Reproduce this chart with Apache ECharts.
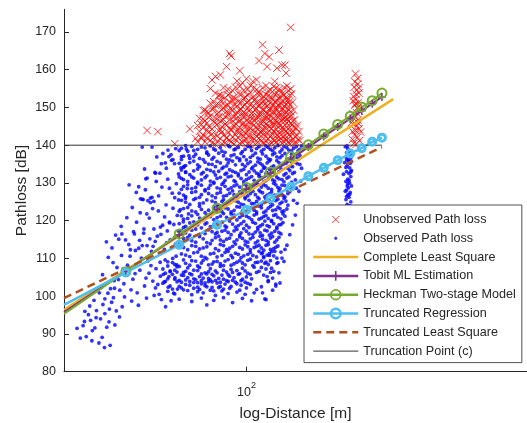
<!DOCTYPE html>
<html><head><meta charset="utf-8">
<script src="https://cdn.jsdelivr.net/npm/echarts@6.0.0/dist/echarts.min.js"></script>
<style>html,body{margin:0;padding:0;background:#fff}#c{width:527px;height:423px}</style>
</head><body><div id="c"></div>
<script>
// ---------- data (distance [m], path loss [dB]) ----------
const unobserved = [
[71,141.8],[73,140.9],[76,141.3],[79,140.2],[82,141.7],[85,140.6],[88,141.2],[91,140.3],[94,141.9],[97,140.7],[100,141.4],[103,140.1],[106,141.6],[109,140.8],[112,141.1],[115,140.4],[118,141.7],[121,140.6],[124,141.3],[127,140.2],[130,141.8],[133,140.9],[136,141.4],[139,140.3],[142,141.6],[146,140.7],[150,141.2],
[70,143.7],[72,142.6],[75,143.3],[78,142.1],[81,143.8],[84,142.7],[87,143.4],[90,142.2],[93,143.6],[96,142.9],[99,143.2],[102,142.5],[105,143.9],[108,142.3],[111,143.5],[114,142.8],[117,143.1],[120,142.4],[123,143.7],[126,142.6],[129,143.3],[132,142.1],[135,143.8],[138,142.7],[141,143.4],[145,142.2],[149,143.6],
[69,145.2],[72,144.6],[74,145.8],[77,144.3],[80,145.5],[83,144.9],[86,145.3],[89,144.1],[92,145.7],[95,144.7],[98,145.1],[101,144.4],[104,145.9],[107,144.8],[110,145.2],[113,144.2],[116,145.6],[119,144.9],[122,145.4],[125,144.1],[128,145.8],[131,144.6],[134,145.3],[137,144.3],[140,145.7],[143,144.8],[147,145.2],
[70,147.1],[73,146.5],[76,147.7],[78,146.2],[81,147.4],[84,146.8],[87,147.9],[90,146.4],[93,147.2],[96,146.7],[99,147.6],[102,146.1],[105,147.3],[108,146.9],[111,147.8],[114,146.3],[117,147.5],[120,146.6],[123,147.1],[126,146.2],[129,147.7],[132,146.8],[135,147.4],[138,146.4],[141,147.9],[144,146.7],
[72,149.2],[75,148.6],[78,149.7],[80,148.3],[83,149.4],[86,148.9],[89,149.6],[92,148.2],[95,149.1],[98,148.7],[101,149.8],[104,148.4],[107,149.3],[110,148.1],[113,149.5],[116,148.8],[119,149.2],[122,148.5],[125,149.9],[128,148.6],[131,149.4],[134,148.2],[137,149.7],[140,148.9],[143,149.3],
[76,151.1],[79,150.5],[82,151.8],[85,150.3],[88,151.4],[91,150.8],[94,151.6],[97,150.2],[100,151.3],[103,150.7],[106,151.9],[109,150.4],[112,151.2],[115,150.9],[118,151.7],[121,150.1],[124,151.5],[127,150.6],[130,151.1],[133,150.3],[136,151.8],[139,150.7],[142,151.4],
[81,153.2],[85,152.6],[88,153.7],[92,152.3],[96,153.4],[99,152.8],[103,153.9],[107,152.2],[111,153.5],[114,152.9],[118,153.1],[122,152.4],[126,153.8],[129,152.7],[133,153.3],[137,152.1],[141,153.6],
[84,155.2],[90,154.4],[95,155.6],[101,154.8],[106,155.3],[110,154.2],[116,155.8],[120,154.6],[125,155.1],[131,154.3],[136,155.7],[140,154.9],
[79,158.2],[77,157.3],[82,158.6],[86,160.8],[88,164.3],[89,163.6],[95,159.7],[113,166.6],[110,162.4],[115,164.3],[117,160.8],[119,163.4],[128,165.2],[126,160.4],[131,161.2],[134,161.2],[135,159.1],[124,156.9],[105,156.9],[108,157.3],[140,171.2],[100,157.6],[97,156.5],[93,157.0],
[47,143.9],[51,143.6],[58,140.4],[65,144.3],[68,141.8],[69,140.9],[73,149.3],[79,153.8],[82,153.3],[76,155.0],
[74,141.9],[77,140.5],[80,141.0],[83,140.3],[86,141.8],[89,140.9],[92,141.4],[95,140.5],[98,141.3],[101,140.4],[104,141.6],[107,140.2],[110,141.9],[113,140.6],[116,141.2],[119,140.1],[122,141.5],[125,140.8],[128,141.4],[131,140.5],[134,141.7],[137,140.8],[140,141.1],[144,140.6],[148,141.5],
[71,142.2],[74,144.0],[77,143.0],[80,142.4],[83,143.5],[86,142.1],[89,143.9],[92,142.8],[95,143.4],[98,142.4],[101,143.7],[104,142.2],[107,143.5],[110,142.9],[113,143.6],[116,142.3],[119,143.8],[122,142.9],[125,143.1],[128,142.2],[131,143.9],[134,142.6],[137,143.3],[140,142.4],[143,143.5],[147,142.6],
[71,145.5],[75,144.9],[79,145.9],[82,144.2],[85,145.6],[88,144.6],[91,145.1],[94,144.3],[97,145.8],[100,145.1],[103,144.5],[106,145.4],[109,144.3],[112,145.8],[115,144.6],[118,145.2],[121,144.4],[124,145.6],[127,144.9],[130,145.3],[133,144.1],[136,145.9],[139,144.7],[142,145.5],[146,144.5],
[72,146.9],[75,147.4],[79,147.2],[82,146.3],[85,147.6],[88,146.7],[91,147.5],[94,146.2],[97,147.9],[100,146.5],[103,147.3],[106,146.6],[109,147.6],[112,146.4],[115,147.2],[118,146.9],[121,147.7],[124,146.3],[127,147.5],[130,146.6],[133,147.2],[136,146.9],[139,147.6],[142,146.4],
[74,148.9],[77,149.5],[81,148.7],[84,149.9],[87,148.4],[90,149.3],[93,148.8],[96,149.6],[99,148.2],[102,149.1],[105,148.8],[108,149.7],[111,148.5],[114,149.2],[117,148.3],[120,149.6],[123,148.9],[126,149.3],[129,148.2],[132,149.7],[135,148.8],[138,149.3],
[78,151.5],[81,150.8],[84,151.2],[87,150.6],[90,151.9],[93,150.4],[96,151.3],[99,150.8],[102,151.7],[105,150.2],[108,151.3],[111,150.7],[114,151.6],[117,150.4],[120,151.2],[123,150.8],[126,151.9],[129,150.5],[132,151.6],[135,150.9],[138,151.3],
[83,152.9],[87,153.3],[90,152.5],[94,153.8],[98,152.4],[101,153.2],[105,152.7],[109,153.6],[113,152.3],[116,153.4],[120,152.8],[124,153.6],[128,152.2],[131,153.5],[135,152.8],[139,153.2],
[87,154.8],[92,155.4],[98,154.6],[103,155.8],[108,154.7],[113,155.2],[118,154.4],[123,155.6],[128,154.8],[133,155.3],[138,154.5],
[229,158.9],[233,157.7],[227,155.4],[231,154.6],[235,153.8],[226,152.9],[230,152.1],[234,151.3],[228,150.6],[232,149.8],[236,149.0],[225,148.3],[229,147.5],[233,146.7],[227,145.9],[231,145.1],[235,144.3],[224,143.6],[228,142.8],[232,142.0],[236,141.2],[226,140.5],[230,140.2],[233,156.2],[222,146.0],[238,143.5],[229,151.0],
[224,141.5],[229,143.9],[234,145.8],[226,147.1],[231,148.6],[236,150.4],[225,151.8],[230,153.5],[235,155.2],[228,156.8]
];
const observed = [
[28.3,88.9],[29.6,89.3],[30.6,93.6],[31.6,91.6],[32.6,87.6],[33.0,94.0],[34.6,91.8],[33.4,89.1],[35.5,87.0],[31.0,90.9],[29.2,93.3],[30.1,95.1],[28.9,92.2],[32.0,96.2],[34.1,95.4],[35.2,93.2],[36.8,92.4],[33.6,97.8],[35.9,98.4],[37.2,96.1],[38.1,94.5],[36.4,99.6],[31.4,98.9],[27.6,91.5],[30.4,97.4],[34.0,86.4],[38.9,97.2],[39.6,99.8],[29.9,100.3],[32.7,100.9],
[33.5,105.7],[35.6,102.0],[34.1,99.3],[36.6,104.1],[38.2,101.6],[37.4,107.6],[39.4,103.3],[35.0,110.3],[36.0,112.8],[38.7,110.8],[39.9,114.9],[37.0,116.2],[34.5,114.4],[38.8,116.5],[37.9,115.1],
[40.5,108.2],[41.3,110.6],[42.2,104.5],[43.0,112.1],[43.6,100.9],[44.5,106.9],[45.3,113.4],[46.1,102.7],[47.2,109.3],[48.0,115.2],[49.1,104.0],[41.8,98.7],[44.0,97.6],[46.8,99.5],[48.6,111.9],[42.7,116.5],[45.9,117.8],[47.7,106.1],[49.6,100.2],[40.9,113.7],
[50.3,107.3],[51.0,103.1],[51.7,111.4],[52.4,99.1],[53.2,105.8],[53.9,109.6],[54.6,114.2],[55.2,102.4],[56.0,106.7],[56.8,112.9],[57.5,100.8],[58.1,104.9],[58.9,108.3],[59.6,117.3],[50.8,115.9],[52.9,118.8],[55.7,119.6],[57.9,115.5],[54.1,97.2],[59.2,101.9],[51.5,100.5],[56.4,98.8],[58.6,110.6],[53.5,103.8],[55.0,108.0],
[45.3,139.5],[48.8,139.5],[55.5,137.0],[52.4,135.1],[57.9,135.1],[51.8,132.6],[49.9,132.8],[54.4,133.9],[47.0,131.3],[41.0,129.5],[44.1,129.0],[43.3,127.5],[45.3,125.7],[47.3,125.3],[48.8,126.2],[48.2,124.8],[54.3,124.2],[59.7,125.5],[60.5,122.9],[42.4,117.1],[45.8,116.7],[49.5,117.8],[52.0,118.3],[55.8,119.4],[41.4,112.3],[44.1,112.7],[47.0,113.4],[50.0,114.5],[56.0,114.9],
[46.1,133.7],[46.5,131.1],[50.1,132.6],[44.7,125.8],[45.6,125.6],[48.2,126.0],[49.5,125.1],[54.0,135.3],[56.4,137.5],[57.2,136.2],[61.0,137.0],
[53.0,137.8],[56.6,136.0],[60.0,138.6],[62.2,134.4],[61.0,131.2],[58.7,129.8],[63.8,128.5],[56.9,127.3],[52.6,128.9],[50.6,136.9],[64.6,137.2],[63.0,132.8],[59.1,121.4],[61.9,119.7],[57.2,123.3],[53.7,121.0],[51.2,122.6],[47.8,120.7],[44.6,122.1],[42.0,123.5],[40.3,120.8],[38.6,118.5],[46.4,128.2],[50.4,130.4],[55.0,131.0],
[42.9,106.0],[45.0,110.1],[46.6,104.8],[48.4,108.1],[50.1,102.2],[51.9,109.0],[53.6,112.4],[55.5,105.2],[57.1,110.0],[58.3,113.8],[59.0,106.4],[52.2,116.4],[54.8,117.3],[57.6,119.0],[49.2,113.2],[44.4,114.8],[41.6,101.7],[39.2,107.2],[37.8,104.4],[36.3,108.9],[35.3,96.6],[33.2,102.3],[31.9,94.3],[29.3,96.0],[30.9,88.2],[34.9,100.8],[36.7,102.1],[43.4,119.6],[46.9,121.8],[49.0,123.2],[58.0,126.1],[55.7,128.6],[51.3,126.6],[60.8,134.0],[63.3,139.0],[58.4,139.1],[55.1,138.7],[59.7,132.4],[62.9,125.9],[64.4,121.8],
[61,139.2],[64,138.4],[66,139.7],[69,138.9],[71,139.5],[74,138.2],[76,139.8],[79,138.7],[82,139.3],[85,138.1],[88,139.6],[91,138.8],[94,139.4],[97,138.3],[101,139.7],[104,138.6],[108,139.1],[112,138.4],[116,139.8],[120,138.9],[124,139.3],[129,138.2],[133,139.6],[138,138.7],[143,139.2],[148,138.5],[152,139.8],
[63,139.9],[67,138.6],[73,139.3],[78,139.0],[83,138.4],[87,139.9],[92,139.0],[99,138.9],[103,139.5],[110,139.6],[114,138.9],[118,139.4],[122,138.5],[127,139.9],[131,138.8],[136,139.3],[141,138.5],[146,139.6],[150,138.9],
[62,137.1],[65,136.5],[68,137.6],[72,136.2],[75,137.4],[78,136.8],[81,137.9],[86,136.3],[89,137.2],[93,136.7],[96,137.8],[100,136.1],[105,137.3],[109,136.6],[113,137.7],[118,136.4],[122,137.5],[126,136.9],[131,137.2],[136,136.3],[141,137.6],[146,136.8],[150,137.3],
[61,136.2],[67,137.0],[70,136.5],[74,137.9],[77,136.3],[84,137.2],[88,136.1],[91,137.5],[95,136.4],[98,137.0],[103,136.8],[107,137.9],[111,136.3],[116,137.1],[120,136.2],[124,137.9],[129,136.7],[134,137.8],[139,136.5],[144,137.3],[149,136.4],
[60,135.2],[63,134.6],[67,135.8],[70,134.3],[73,135.5],[77,134.9],[80,135.7],[84,134.2],[87,135.3],[92,134.8],[95,135.9],[99,134.4],[103,135.6],[107,134.7],[111,135.2],[115,134.1],[119,135.8],[123,134.5],[128,135.4],[132,134.9],[137,135.7],[142,134.3],[147,135.1],
[62,134.1],[65,135.4],[69,134.8],[75,135.0],[79,134.3],[82,135.3],[86,134.5],[90,135.8],[97,134.9],[101,135.1],[105,134.2],[109,135.6],[113,134.7],[117,135.3],[121,134.2],[126,135.9],[130,134.6],[135,135.2],[140,134.5],[145,135.5],[150,134.9],
[61,133.4],[65,132.2],[69,133.7],[72,132.8],[76,133.3],[79,132.1],[83,133.8],[86,132.6],[90,133.1],[94,132.4],[98,133.6],[102,132.9],[106,133.2],[110,132.3],[114,133.9],[117,132.7],[121,133.4],[125,132.2],[130,133.7],[135,132.5],[139,133.3],[144,132.8],
[63,132.9],[67,133.2],[71,132.4],[74,133.6],[78,132.9],[81,133.1],[85,132.3],[88,133.5],[92,132.8],[96,133.3],[100,132.2],[104,133.8],[108,132.6],[112,133.1],[116,132.5],[119,133.7],[123,132.9],[128,133.0],[133,132.1],[137,133.9],[142,132.5],
[60,131.6],[64,130.4],[67,131.3],[71,130.8],[74,131.9],[78,130.2],[82,131.5],[85,130.7],[89,131.8],[92,130.3],[96,131.2],[100,130.9],[104,131.7],[108,130.1],[112,131.4],[116,130.6],[120,131.9],[124,130.5],[128,131.1],[133,130.3],[138,131.6],[145,130.8],
[62,130.9],[66,131.6],[69,130.2],[73,131.4],[76,130.5],[80,131.2],[84,130.1],[87,131.6],[91,130.6],[94,131.9],[98,130.4],[102,131.3],[106,130.7],[110,131.8],[114,130.3],[118,131.1],[122,130.8],[126,131.5],[131,130.9],[136,131.3],[141,130.2],
[62,129.1],[66,128.5],[69,129.8],[73,128.2],[76,129.4],[80,128.7],[83,129.6],[87,128.3],[91,129.2],[95,128.9],[98,129.7],[103,128.4],[107,129.3],[110,128.1],[114,129.5],[118,128.6],[123,129.9],[127,128.8],[131,129.4],[136,128.2],[141,129.1],
[61,128.3],[64,129.5],[68,128.8],[71,129.4],[75,128.6],[78,129.9],[82,128.4],[85,129.1],[89,128.7],[93,129.5],[97,128.1],[100,129.2],[105,128.7],[109,129.6],[112,128.9],[116,129.2],[121,128.3],[125,129.5],[129,128.5],[134,129.3],[139,128.6],
[60,127.3],[63,126.4],[68,127.7],[71,126.9],[75,127.2],[79,126.1],[82,127.5],[86,126.7],[90,127.9],[93,126.3],[97,127.1],[101,126.6],[105,127.8],[109,126.2],[113,127.4],[117,126.8],[121,127.6],[126,126.5],[130,127.2],[134,126.3],[139,127.7],
[62,126.8],[66,127.5],[70,126.2],[73,127.9],[77,126.6],[80,127.2],[84,126.5],[88,127.3],[91,126.9],[95,127.6],[99,126.2],[103,127.2],[107,126.9],[111,127.7],[115,126.3],[119,127.1],[124,126.8],[128,127.9],[132,126.7],[137,127.2],
[61,125.4],[65,124.3],[68,125.9],[72,124.7],[77,125.2],[81,124.1],[84,125.6],[88,124.9],[92,125.3],[96,124.4],[99,125.8],[104,124.6],[108,125.1],[112,124.2],[116,125.7],[120,124.8],[125,125.3],[129,124.5],[133,125.9],[137,124.1],
[63,124.9],[67,125.6],[70,124.5],[74,125.5],[79,124.8],[83,125.1],[86,124.3],[90,125.7],[94,124.9],[98,124.2],[102,125.4],[106,124.5],[110,125.8],[114,124.9],[118,125.1],[122,124.2],[127,125.7],[131,124.9],[135,125.2],
[62,123.2],[66,122.6],[70,123.8],[73,122.1],[78,123.5],[81,122.9],[85,123.4],[89,122.3],[93,123.7],[97,122.5],[101,123.1],[106,122.8],[110,123.9],[114,122.2],[118,123.3],[122,122.7],[127,123.6],[131,122.4],[136,123.1],
[60,122.5],[64,123.5],[68,122.3],[71,123.0],[75,122.8],[80,123.9],[83,122.4],[87,123.1],[91,122.7],[95,123.6],[99,122.2],[104,123.5],[108,122.3],[112,123.4],[116,122.6],[120,123.8],[125,122.9],[129,123.2],[133,122.6],
[61,121.3],[64,120.6],[69,121.7],[72,120.2],[76,121.1],[80,120.8],[84,121.9],[87,120.4],[91,121.5],[95,120.9],[100,121.2],[104,120.3],[108,121.8],[112,120.7],[116,121.4],[121,120.1],[125,121.6],[130,120.5],[134,121.2],
[62,120.4],[66,121.3],[70,120.7],[74,121.5],[78,120.3],[82,121.2],[86,120.9],[89,121.8],[93,120.2],[97,121.4],[102,120.8],[106,121.5],[110,120.4],[114,121.1],[118,120.6],[123,121.4],[127,120.9],[132,121.8],
[60,119.2],[63,118.5],[67,119.7],[71,118.1],[74,119.4],[78,118.8],[83,119.6],[86,118.3],[90,119.1],[94,118.7],[98,119.8],[102,118.2],[107,119.3],[111,118.6],[115,119.9],[119,118.4],[123,119.2],[128,118.9],[132,119.5],
[62,118.2],[65,119.4],[69,118.9],[73,119.1],[76,118.4],[80,119.5],[85,118.6],[88,119.9],[92,118.3],[96,119.2],[100,118.8],[105,119.6],[109,118.2],[113,119.0],[117,118.7],[121,119.8],[126,118.3],[130,119.0],
[61,117.4],[65,116.2],[68,117.8],[73,116.6],[77,117.1],[80,116.9],[85,117.5],[89,116.3],[93,117.7],[96,116.8],[100,117.2],[105,116.4],[109,117.6],[113,116.1],[117,117.3],[121,116.7],[126,117.9],[130,116.5],
[63,116.8],[66,117.5],[70,116.3],[75,117.6],[79,116.5],[83,117.2],[87,116.9],[91,117.3],[95,116.2],[98,117.9],[102,116.5],[107,117.0],[111,116.8],[115,117.5],[119,116.2],[124,117.2],[128,116.9],
[62,115.3],[66,114.7],[70,115.8],[74,114.2],[79,115.5],[82,114.9],[86,115.1],[91,114.4],[95,115.7],[99,114.6],[103,115.2],[107,114.1],[111,115.9],[116,114.8],[120,115.4],[124,114.3],[128,115.6],
[60,114.5],[64,115.6],[68,114.3],[72,115.2],[77,114.8],[81,115.9],[84,114.5],[88,115.4],[93,114.9],[97,115.3],[101,114.3],[105,115.6],[109,114.6],[113,115.1],[118,114.4],[122,115.8],[126,114.9],
[60,113.6],[64,112.3],[68,113.2],[72,112.8],[76,113.9],[81,112.1],[84,113.4],[88,112.7],[92,113.8],[97,112.5],[101,113.1],[106,112.9],[110,113.5],[114,112.2],[118,113.7],[123,112.6],[127,113.3],
[62,112.9],[66,113.4],[70,112.5],[74,113.1],[79,112.6],[82,113.7],[86,112.4],[90,113.2],[95,112.9],[99,113.6],[103,112.3],[108,113.2],[112,112.8],[116,113.5],[120,112.4],[125,113.0],
[61,111.2],[65,110.5],[69,111.7],[73,110.3],[78,111.4],[83,110.8],[87,111.9],[90,110.2],[94,111.1],[98,110.7],[103,111.6],[108,110.4],[112,111.3],[117,110.9],[121,111.8],[126,110.1],
[63,110.9],[67,111.5],[71,110.6],[76,111.2],[80,110.4],[85,111.6],[89,110.8],[92,111.4],[96,110.2],[101,111.1],[105,110.8],[110,111.9],[114,110.5],[119,111.3],[123,110.7],
[55,109.1],[58,108.4],[62,109.6],[65,108.2],[68,109.3],[71,108.8],[74,109.9],[77,108.5],[80,109.2],[84,108.1],[87,109.7],[91,108.6],[95,109.4],[99,108.3],[103,109.8],[107,108.9],[112,109.3],[118,108.4],
[57,108.9],[60,107.9],[63,108.7],[66,109.4],[69,108.0],[72,109.5],[75,108.3],[78,109.1],[82,108.6],[85,109.3],[89,108.2],[93,109.0],[97,108.8],[101,109.5],[105,108.1],[109,109.0],[115,108.7],
[53,107.2],[56,106.5],[59,107.8],[62,106.3],[64,107.5],[67,106.9],[70,107.6],[73,106.2],[76,107.3],[79,106.7],[82,107.9],[86,106.4],[89,107.1],[93,106.8],[97,107.4],[101,106.1],[106,107.7],[110,106.6],[116,107.2],
[54,106.1],[58,106.9],[61,105.6],[63,106.6],[65,106.0],[69,106.8],[71,105.9],[75,106.5],[77,105.8],[80,106.2],[84,106.9],[87,105.7],[90,106.3],[95,106.0],[99,106.7],[103,105.8],[108,106.3],
[52,105.3],[55,104.6],[57,105.8],[60,104.2],[62,105.5],[64,104.9],[66,105.7],[68,104.4],[70,105.2],[72,104.8],[74,105.9],[76,104.3],[78,105.4],[81,104.7],[83,105.6],[86,104.1],[88,105.3],[91,104.9],[94,105.8],[97,104.5],[100,105.1],[104,104.6],
[54,103.9],[58,104.5],[61,103.7],[63,104.3],[65,103.9],[67,104.6],[69,103.6],[71,104.1],[73,103.5],[75,104.7],[77,103.8],[79,104.2],[82,103.7],[84,104.5],[87,103.9],[90,104.2],[93,103.3],[96,104.1],[99,103.7],[103,103.1],
[53,103.4],[56,102.7],[59,103.8],[61,102.2],[63,103.1],[65,102.9],[67,103.6],[69,102.4],[71,103.3],[73,102.8],[75,103.9],[77,102.3],[80,103.5],[82,102.6],[85,103.2],[88,102.1],[92,103.7],[96,102.9],[101,103.4],
[57,101.9],[60,102.6],[64,101.5],[67,102.1],[70,101.8],[74,102.5],[78,101.4],[81,102.3],[84,101.9],[89,102.6],[95,101.6],[100,102.2],[106,100.9],
[55,101.3],[58,100.6],[62,101.7],[66,100.4],[69,101.2],[72,100.9],[76,101.6],[79,100.2],[83,101.4],[87,100.7],[93,101.1],[99,100.5],[108,101.8],
[60,99.2],[66,98.6],[71,99.5],[74,97.7],[78,98.9],[84,99.6],[90,98.3],[97,99.4],[104,98.8],[115,99.3],[112,102.5],[118,104.1],[122,101.6],[120,106.3],[125,103.2],[114,110.2],
[113,111.5],[116,109.0],[119,110.8],[121,107.4],[124,111.9],[126,108.7],[114,105.6],[118,103.9],[122,104.8],[125,102.7],[128,106.2],[131,110.1],[134,112.4],[116,99.1],[113,100.9],[129,103.5],
[112,107.6],[117,105.2],[120,109.4],[123,106.6],[127,108.9],[130,111.7],[133,109.2],[136,113.5],[139,116.3],[142,118.9],[145,121.5],[147,124.6],[149,127.8],[151,130.5],[152,133.9],[146,128.6],[143,125.4],
[212,139.6],[216,139.1],[219,138.5],[214,138.0],[218,137.3],[221,136.6],[213,136.9],[217,135.8],[220,135.2],[215,134.6],[219,134.0],[222,133.3],[214,133.0],[218,132.5],[221,131.7],[216,131.0],[213,130.4],[219,130.0],[222,129.2],[217,128.7],[214,128.1],[220,127.5],[216,126.9],[218,126.2],[213,125.6],[221,125.0],[215,124.3],[219,123.7],[212,123.1],[217,122.4],[210,121.6],[214,120.8],[216,129.8],[211,135.4],[223,137.8],[209,132.3],
[215,139.8],[220,138.0],[217,136.2],[213,134.1],[221,132.9],[218,130.7],[215,129.2],[219,127.0],[214,126.4],[220,123.9],[216,122.8],[212,127.8],[222,135.7],[214,136.1]
];
const fitDist = [25, 40, 60, 80, 100, 120, 140, 160, 180, 200, 220, 240, 260, 280];
const tobitLoss = [95.8, 106.6, 116.2, 123.0, 128.3, 132.6, 136.3, 139.5, 142.3, 144.8, 147.0, 149.1, 151.0, 152.8];
const heckmanLoss = [95.3, 106.5, 116.5, 123.3, 128.8, 132.9, 137.0, 140.1, 143.0, 145.5, 147.7, 150.1, 151.8, 153.8];
const truncRegLoss = [97.7, 106.3, 113.6, 118.9, 122.9, 125.9, 129.0, 131.8, 134.0, 136.0, 137.8, 139.2, 140.9, 142.0];
const clsDist = [25, 305];
const clsLoss = [96.4, 152.2];
const tlsDist = [25, 280];
const tlsLoss = [99.5, 139.5];
const truncDist = [25, 280];
const truncLevel = [140, 140];
const xTicks = [100];
const yTicks = [80, 90, 100, 110, 120, 130, 140, 150, 160, 170];
const xMin = 25, xMax = 843, yMin = 80, yMax = 176;

// ---------- chart ----------
const AX = '#262626';
const FONT = 'Liberation Sans, Arial, Helvetica, sans-serif';
const zip = (xs, ys) => xs.map((x, i) => [x, ys[i]]);
const markerLine = ys => fitDist.map((x, i) => i === 0 ? {value: [x, ys[i]], symbol: 'none'} : [x, ys[i]]);
const X_PATH = 'path://M0,0L10,10M10,0L0,10';
const PLUS_PATH = 'path://M5,0L5,10M0,5L10,5';
const TRANSPARENT = 'rgba(0,0,0,0)';

const chart = echarts.init(document.getElementById('c'), null, {renderer: 'canvas'});
chart.setOption({
  animation: false,
  backgroundColor: '#fff',
  textStyle: {fontFamily: FONT},
  grid: {left: 64, right: 0, top: 9.3, bottom: 51.3, containLabel: false, outerBoundsMode: 'none'},
  xAxis: {
    type: 'log', logBase: 10, min: xMin, max: xMax,
    name: 'log-Distance [m]', nameLocation: 'middle', nameGap: 34, nameMoveOverlap: false,
    nameTextStyle: {fontSize: 15.5, color: AX, fontFamily: FONT},
    axisLine: {show: true, onZero: false, lineStyle: {color: AX, width: 1}},
    axisTick: {show: true, inside: true, length: 5, customValues: xTicks, lineStyle: {color: AX}},
    axisLabel: {
      customValues: xTicks, margin: 9, color: AX,
      formatter: () => '{b|10}{s|2}',
      rich: {
        b: {fontSize: 12.5, color: AX, fontFamily: FONT, lineHeight: 18, verticalAlign: 'bottom'},
        s: {fontSize: 9, color: AX, fontFamily: FONT, lineHeight: 10, verticalAlign: 'top'}
      }
    },
    splitLine: {show: false}, minorTick: {show: false}, minorSplitLine: {show: false}
  },
  yAxis: {
    type: 'value', min: yMin, max: yMax,
    name: 'Pathloss [dB]', nameLocation: 'middle', nameGap: 34, nameMoveOverlap: false,
    nameTextStyle: {fontSize: 15.5, color: AX, fontFamily: FONT},
    axisLine: {show: true, onZero: false, lineStyle: {color: AX, width: 1}},
    axisTick: {show: true, inside: true, length: 5, customValues: yTicks, lineStyle: {color: AX}},
    axisLabel: {customValues: yTicks, margin: 8, fontSize: 12.5, color: AX, fontFamily: FONT},
    splitLine: {show: false}
  },
  legend: {
    orient: 'vertical', left: 304, top: 205, padding: [8, 6, 5, 8],
    itemWidth: 45, itemHeight: 12, itemGap: 5.8,
    backgroundColor: '#fff', borderColor: AX, borderWidth: 0.8, borderRadius: 0,
    selectedMode: false,
    textStyle: {fontSize: 12.6, color: AX, fontFamily: FONT},
    data: [
      {name: 'Unobserved Path loss', icon: 'path://M0,0M45,12M19,2.5L26,9.5M26,2.5L19,9.5',
       itemStyle: {color: TRANSPARENT, borderColor: '#ff0000', borderWidth: 1}},
      {name: 'Observed Path loss', icon: 'path://M0,0M45,12M21,6L21.5,4.8L22.5,4.3L23.5,4.8L24,6L23.5,7.2L22.5,7.7L21.5,7.2Z',
       itemStyle: {color: '#0000ff', borderWidth: 0}},
      {name: 'Complete Least Square', itemStyle: {color: TRANSPARENT, borderColor: TRANSPARENT, borderWidth: 0}, lineStyle: {width: 2.5}},
      {name: 'Tobit ML Estimation', itemStyle: {color: TRANSPARENT, borderColor: '#7E2F8E', borderWidth: 1.6}, lineStyle: {width: 2.5}},
      {name: 'Heckman Two-stage Model', itemStyle: {color: TRANSPARENT, borderColor: '#77AC30', borderWidth: 1.8}, lineStyle: {width: 2.5}},
      {name: 'Truncated Regression', itemStyle: {color: TRANSPARENT, borderColor: '#4DBEEE', borderWidth: 2.4}, lineStyle: {width: 2.5}},
      {name: 'Truncated Least Square', itemStyle: {color: TRANSPARENT, borderColor: TRANSPARENT, borderWidth: 0}, lineStyle: {width: 2.5}},
      {name: 'Truncation Point (c)', itemStyle: {color: TRANSPARENT, borderColor: TRANSPARENT, borderWidth: 0}, lineStyle: {width: 1}}
    ]
  },
  series: [
    {name: 'Unobserved Path loss', type: 'scatter', data: unobserved, large: false,
     symbol: X_PATH, symbolSize: 7.5,
     itemStyle: {color: '#ff0000', borderColor: '#ff0000', borderWidth: 1}, emphasis: {disabled: true}},
    {name: 'Observed Path loss', type: 'scatter', data: observed, large: false,
     symbol: 'circle', symbolSize: 3.8,
     itemStyle: {color: '#0000ff'}, emphasis: {disabled: true}},
    {name: 'Complete Least Square', type: 'line', data: zip(clsDist, clsLoss), symbol: 'none',
     itemStyle: {color: '#EDB120'}, lineStyle: {color: '#EDB120', width: 2.5}, emphasis: {disabled: true}},
    {name: 'Tobit ML Estimation', type: 'line', data: markerLine(tobitLoss), symbol: PLUS_PATH, symbolSize: 8,
     itemStyle: {color: '#7E2F8E', borderColor: '#7E2F8E', borderWidth: 1.5},
     lineStyle: {color: '#7E2F8E', width: 2}, emphasis: {disabled: true}},
    {name: 'Heckman Two-stage Model', type: 'line', data: markerLine(heckmanLoss), symbol: 'circle', symbolSize: 9,
     itemStyle: {color: TRANSPARENT, borderColor: '#77AC30', borderWidth: 2},
     lineStyle: {color: '#77AC30', width: 2}, emphasis: {disabled: true}},
    {name: 'Truncated Regression', type: 'line', data: markerLine(truncRegLoss), symbol: 'circle', symbolSize: 7,
     itemStyle: {color: TRANSPARENT, borderColor: '#4DBEEE', borderWidth: 3},
     lineStyle: {color: '#4DBEEE', width: 2.5}, emphasis: {disabled: true}},
    {name: 'Truncated Least Square', type: 'line', data: zip(tlsDist, tlsLoss), symbol: 'none',
     itemStyle: {color: '#B0501F'}, lineStyle: {color: '#B0501F', width: 2.5, type: [8, 5]}, emphasis: {disabled: true}},
    {name: 'Truncation Point (c)', type: 'line', data: zip(truncDist, truncLevel), symbol: 'none',
     itemStyle: {color: '#333333'}, lineStyle: {color: '#333333', width: 1}, emphasis: {disabled: true}}
  ]
});
</script></body></html>
